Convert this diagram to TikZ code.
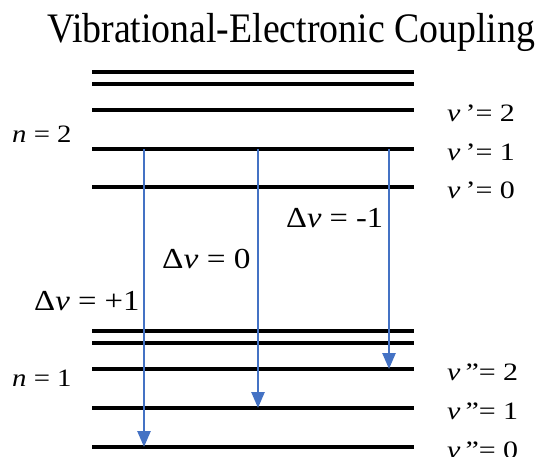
\documentclass[tikz,border=0pt]{standalone}
\usepackage{fontspec}
\usepackage{graphicx}
\setmainfont{Liberation Serif}
\usetikzlibrary{arrows.meta,positioning}
\definecolor{trans}{HTML}{4472C4}
\newcommand{\vv}{\textit{v}}
% the labels of the reference are a little wider than Times
\newcommand{\widen}[2]{\scalebox{#1}[1]{#2}}
\tikzset{
  level/.style={line width=3.2pt,black},
  jump/.style={draw=trans,line width=2.6pt,-{Triangle[length=16pt,width=13pt]}},
  vlab/.style={anchor=base west,inner sep=0pt,font=\fontsize{25}{27}\selectfont},
  nlab/.style={anchor=base west,inner sep=0pt,font=\fontsize{25}{27}\selectfont},
  dlab/.style={anchor=base west,inner sep=0pt,font=\fontsize{29}{31}\selectfont},
}
\begin{document}
\begin{tikzpicture}[x=1pt,y=-1pt]
  \useasboundingbox (0,0) rectangle (548,456);
  \node[anchor=base,inner sep=0pt,font=\fontsize{42}{44}\selectfont] (title) at (291,42)
    {\widen{0.9}{Vibrational-Electronic Coupling}};
  % upper electronic state
  \foreach \y/\nm in {72/u4,84/u3,110/u2,149/u1,187/u0}
    \draw[level] (92,\y) coordinate (\nm) -- (414,\y);
  % lower electronic state
  \foreach \y/\nm in {331/l4,343/l3,369/l2,408/l1,447/l0}
    \draw[level] (92,\y) coordinate (\nm) -- (414,\y);
  % columns of the transitions
  \coordinate (c1) at (144,0);
  \coordinate (c2) at (258,0);
  \coordinate (c3) at (389,0);
  \draw[jump] (c1 |- u1) -- (c1 |- l0);
  \draw[jump] (c2 |- u1) -- (c2 |- l1);
  \draw[jump] (c3 |- u1) -- (c3 |- l2);
  % labels
  \node[nlab] (n2) at (12,142) {\widen{1.15}{\textit{n} = 2}};
  \node[nlab] (n1) at (12,386) {\widen{1.15}{\textit{n} = 1}};
  \node[vlab] (vu2) at (447,121) {\widen{1.2}{\vv\,’= 2}};
  \node[vlab] (vu1) at (447,160) {\widen{1.2}{\vv\,’= 1}};
  \node[vlab] (vu0) at (447,198) {\widen{1.2}{\vv\,’= 0}};
  \node[vlab] (vl2) at (447,380) {\widen{1.2}{\vv\,”= 2}};
  \node[vlab] (vl1) at (447,419) {\widen{1.2}{\vv\,”= 1}};
  \node[vlab] (vl0) at (447,458) {\widen{1.2}{\vv\,”= 0}};
  \node[dlab] (d1) at (34,310) {\widen{1.13}{Δ\vv{} = +1}};
  \node[dlab] (d0) at (162,268) {\widen{1.15}{Δ\vv{} = 0}};
  \node[dlab] (dm) at (286,227) {\widen{1.12}{Δ\vv{} = -1}};
\end{tikzpicture}
\end{document}
